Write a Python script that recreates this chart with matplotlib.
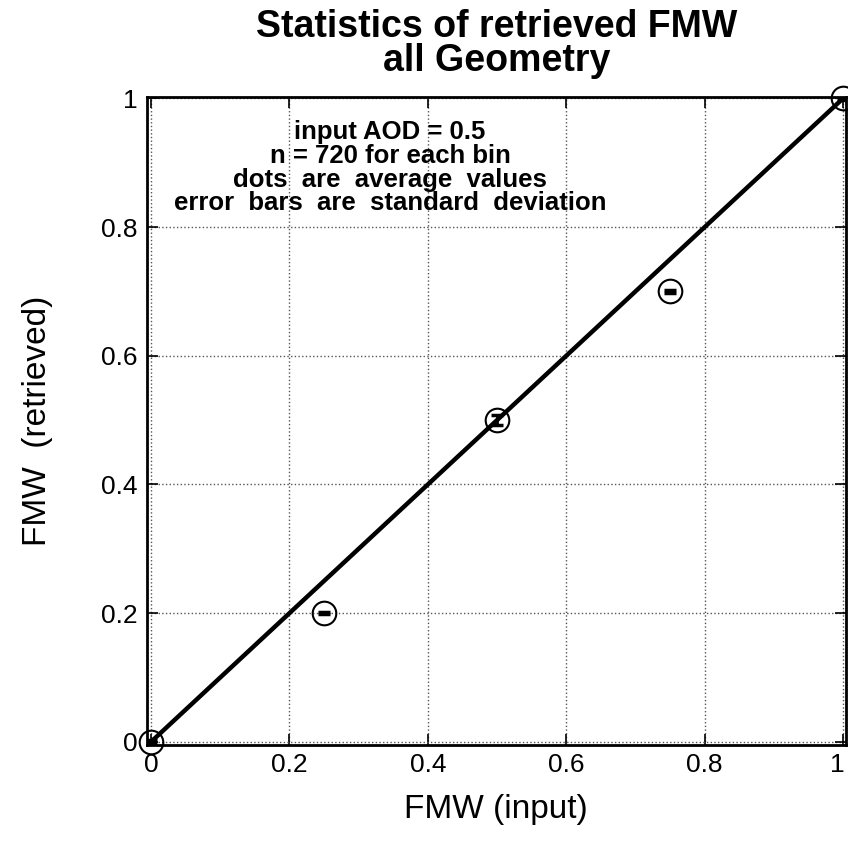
import numpy as np
import matplotlib
matplotlib.use("Agg")
import matplotlib.pyplot as plt
import matplotlib.transforms as mtransforms

plt.rcParams['font.family'] = ['Liberation Sans', 'DejaVu Sans']

# binned statistics of retrieved FMW
fmw_input = [0.0, 0.25, 0.5, 0.75, 1.0]
fmw_mean = [0.0, 0.2, 0.5, 0.7, 1.0]
fmw_std = [0.002, 0.002, 0.008, 0.002, 0.002]
tick_vals = [0, 0.2, 0.4, 0.6, 0.8, 1]
tick_labels = ['0', '0.2', '0.4', '0.6', '0.8', '1']
notes = ["input AOD = 0.5", "n = 720 for each bin",
         "dots  are  average  values", "error  bars  are  standard  deviation"]
note_y = [0.946, 0.909, 0.872, 0.836]

fig = plt.figure(figsize=(8.48, 8.49), dpi=100)
ax = fig.add_axes([0.1733, 0.1225, 0.824, 0.763])

# 1:1 line
ax.plot([0, 1], [0, 1], color='black', lw=3.2, zorder=3)

ax.errorbar(fmw_input, fmw_mean, yerr=fmw_std, fmt='none', ecolor='black',
            elinewidth=2, capsize=4.5, capthick=2.5, zorder=4)
ax.plot(fmw_input, fmw_mean, 'o', mfc='none', mec='black', ms=17, mew=1.5,
        zorder=5, clip_on=False)

ax.set_xlim(-0.006, 1.004)
ax.set_ylim(-0.005, 1.002)
ax.set_xticks(tick_vals)
ax.set_xticklabels(tick_labels)
ax.set_yticks(tick_vals)
ax.set_yticklabels(tick_labels)
ax.tick_params(direction='in', length=8, width=1.2, labelsize=19,
               top=True, right=True)
ax.tick_params(axis='x', pad=6)
ax.tick_params(axis='y', pad=7)
ax.grid(True, linestyle=':', color='#555555', lw=1.0)
for s in ax.spines.values():
    s.set_linewidth(2)

# last x label sits on the figure edge, nudge it in a bit
last = ax.get_xticklabels()[-1]
last.set_transform(last.get_transform() +
                   mtransforms.ScaledTranslation(-4 / 72, 0, fig.dpi_scale_trans))

ax.set_xlabel("FMW (input)", fontsize=24, labelpad=12)
ax.set_ylabel("FMW  (retrieved)", fontsize=24, labelpad=34)
ax.set_title("Statistics of retrieved FMW\nall Geometry", fontsize=27,
             fontweight='bold', linespacing=0.92, pad=19)

for yy, line in zip(note_y, notes):
    ax.text(0.348, yy, line, transform=ax.transAxes,
            ha='center', va='center', fontsize=18.5, fontweight='bold')

fig.savefig("out.png", dpi=100, facecolor='white')
